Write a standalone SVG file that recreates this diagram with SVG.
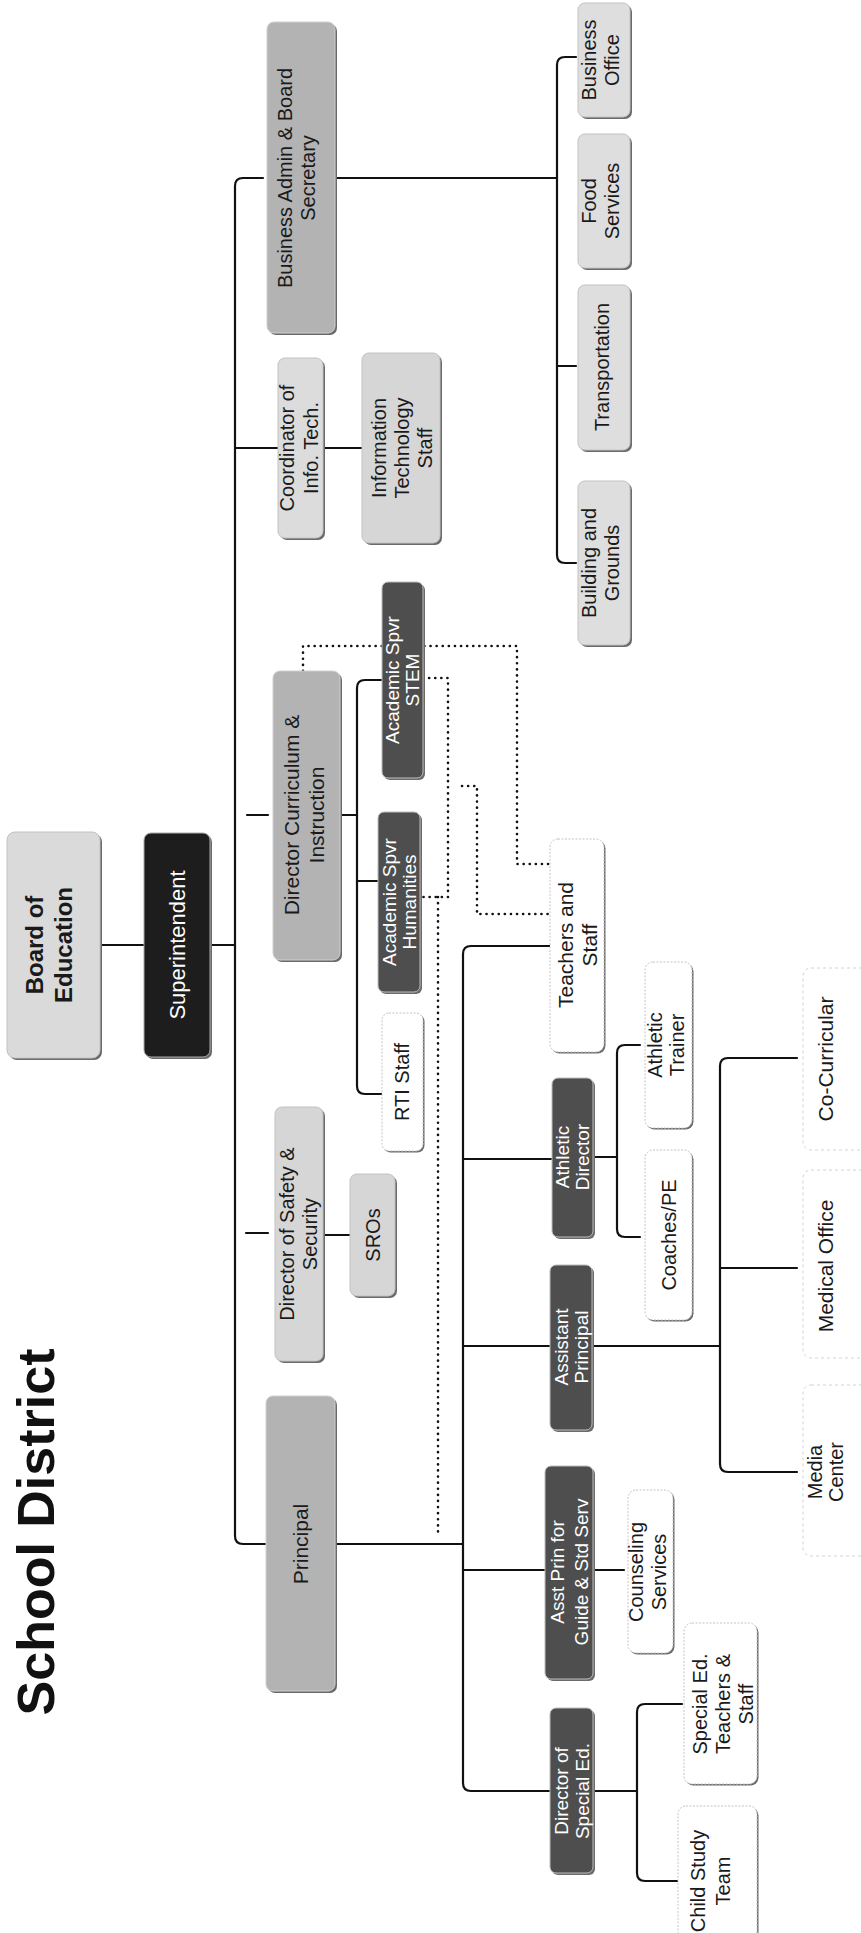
<svg xmlns="http://www.w3.org/2000/svg" width="861" height="1933" viewBox="0 0 861 1933">
<style>
.ln{fill:none;stroke:#111;stroke-width:2.2;stroke-linecap:round;stroke-linejoin:round}
.dt{fill:none;stroke:#111;stroke-width:2.6;stroke-dasharray:0.1 6;stroke-linecap:round}
.t{font-family:"Liberation Sans",Arial,sans-serif;text-anchor:middle;font-size:20px;fill:#1a1a1a}
.wt{fill:#fff}
.b{font-weight:bold}
.sh{fill:#6a6a6a}
.w{fill:#fff;stroke:#c4c4c4;stroke-width:1;stroke-dasharray:2 1.5}
.lg{fill:#d6d6d6;stroke:#c2c2c2;stroke-width:1}
.mg{fill:#b3b3b3;stroke:#d0d0d0;stroke-width:1}
.dk{fill:#4e4e4e;stroke:#bdbdbd;stroke-width:1}
.bk{fill:#1d1d1d;stroke:#aaa;stroke-width:1}
.fa{fill:#fff;stroke:#d2d2d2;stroke-width:1;stroke-dasharray:3 3}
</style>
<rect width="861" height="1933" fill="#fff"/>
<g id="title">
<text class="t b" font-size="52" transform="translate(54,1532) rotate(-90)" style="font-size:52px;fill:#111">School District</text>
</g>
<g id="connectors">
<path class="dt" d="M303,671 V646 H517 V864 H550"/>
<path class="dt" d="M423,678 H448 V897 H420"/>
<path class="dt" d="M438,897 V1534"/>
<path class="dt" d="M462,786 H477 V914 H550"/>
<path class="ln" d="M100,945 H144"/>
<path class="ln" d="M210,945 H235"/>
<path class="ln" d="M263,178 H243 Q235,178 235,186 V1536 Q235,1544 243,1544 H266"/>
<path class="ln" d="M235,448 H278"/>
<path class="ln" d="M247,815 H268"/>
<path class="ln" d="M246,1233 H268"/>
<path class="ln" d="M323,448 H362"/>
<path class="ln" d="M323,1235 H350"/>
<path class="ln" d="M335,178 H557"/>
<path class="ln" d="M576,57 H565 Q557,57 557,65 V555 Q557,563 565,563 H576"/>
<path class="ln" d="M557,366 H576"/>
<path class="ln" d="M340,815 H357"/>
<path class="ln" d="M382,680 H365 Q357,680 357,688 V1086 Q357,1094 365,1094 H382"/>
<path class="ln" d="M357,881 H378"/>
<path class="ln" d="M335,1544 H463"/>
<path class="ln" d="M550,946 H471 Q463,946 463,954 V1783 Q463,1791 471,1791 H550"/>
<path class="ln" d="M463,1159 H552"/>
<path class="ln" d="M463,1346 H550"/>
<path class="ln" d="M463,1570 H545"/>
<path class="ln" d="M593,1157 H617"/>
<path class="ln" d="M640,1045 H625 Q617,1045 617,1053 V1229 Q617,1237 625,1237 H640"/>
<path class="ln" d="M592,1346 H720"/>
<path class="ln" d="M797,1058 H728 Q720,1058 720,1066 V1464 Q720,1472 728,1472 H797"/>
<path class="ln" d="M720,1268 H797"/>
<path class="ln" d="M593,1570 H624"/>
<path class="ln" d="M593,1791 H637"/>
<path class="ln" d="M682,1704 H645 Q637,1704 637,1712 V1873 Q637,1881 645,1881 H682"/>
</g>
<g id="board"><rect class="sh" x="9" y="834" width="93" height="226" rx="8"/><rect class="lg" x="7" y="832" width="93" height="226" rx="8" style="fill:#dadada"/>
<text class="t b" transform="translate(43,945) rotate(-90)" style="font-size:24px"><tspan x="0">Board of</tspan><tspan x="0" dy="29">Education</tspan></text></g>
<g id="superintendent"><rect class="sh" x="146" y="835" width="66" height="224" rx="7"/><rect class="bk" x="144" y="833" width="66" height="224" rx="7"/>
<text class="t wt" transform="translate(185,945) rotate(-90)" style="font-size:22px">Superintendent</text></g>
<g id="principal"><rect class="sh" x="268" y="1398" width="69" height="295" rx="7"/><rect class="mg" x="266" y="1396" width="69" height="295" rx="7"/>
<text class="t" transform="translate(308,1544) rotate(-90)" style="font-size:21px">Principal</text></g>
<g id="safety"><rect class="sh" x="277" y="1109" width="48" height="254" rx="7"/><rect class="lg" x="275" y="1107" width="48" height="254" rx="7"/>
<text class="t" transform="translate(294,1234) rotate(-90)"><tspan x="0">Director of Safety &amp;</tspan><tspan x="0" dy="23">Security</tspan></text></g>
<g id="sros"><rect class="sh" x="352" y="1176" width="45" height="122" rx="7"/><rect class="lg" x="350" y="1174" width="45" height="122" rx="7"/>
<text class="t" transform="translate(380,1235) rotate(-90)">SROs</text></g>
<g id="dci"><rect class="sh" x="275" y="673" width="67" height="289" rx="7"/><rect class="mg" x="273" y="671" width="67" height="289" rx="7"/>
<text class="t" transform="translate(299,815) rotate(-90)" style="font-size:21px"><tspan x="0">Director Curriculum &amp;</tspan><tspan x="0" dy="25">Instruction</tspan></text></g>
<g id="stem"><rect class="sh" x="384" y="584" width="41" height="196" rx="6"/><rect class="dk" x="382" y="582" width="41" height="196" rx="6"/>
<text class="t wt" transform="translate(399,680) rotate(-90)" style="font-size:19px"><tspan x="0">Academic Spvr</tspan><tspan x="0" dy="20">STEM</tspan></text></g>
<g id="humanities"><rect class="sh" x="380" y="814" width="42" height="180" rx="6"/><rect class="dk" x="378" y="812" width="42" height="180" rx="6"/>
<text class="t wt" transform="translate(396,902) rotate(-90)" style="font-size:19px"><tspan x="0">Academic Spvr</tspan><tspan x="0" dy="20">Humanities</tspan></text></g>
<g id="rti"><rect class="sh" x="383.5" y="1014.5" width="41" height="138" rx="7"/><rect class="w" x="382" y="1013" width="41" height="138" rx="7"/>
<text class="t" transform="translate(409,1082) rotate(-90)">RTI Staff</text></g>
<g id="coordinator"><rect class="sh" x="280" y="360" width="45" height="180" rx="7"/><rect class="lg" x="278" y="358" width="45" height="180" rx="7" style="fill:#dcdcdc"/>
<text class="t" transform="translate(294,448) rotate(-90)"><tspan x="0">Coordinator of</tspan><tspan x="0" dy="24">Info. Tech.</tspan></text></g>
<g id="itstaff"><rect class="sh" x="364" y="355" width="78" height="190" rx="7"/><rect class="lg" x="362" y="353" width="78" height="190" rx="7"/>
<text class="t" transform="translate(386,448) rotate(-90)"><tspan x="0">Information</tspan><tspan x="0" dy="23">Technology</tspan><tspan x="0" dy="23">Staff</tspan></text></g>
<g id="busadmin"><rect class="sh" x="269" y="24" width="68" height="311" rx="7"/><rect class="mg" x="267" y="22" width="68" height="311" rx="7"/>
<text class="t" transform="translate(292,178) rotate(-90)"><tspan x="0">Business Admin &amp; Board</tspan><tspan x="0" dy="23">Secretary</tspan></text></g>
<g id="busoffice"><rect class="sh" x="580" y="5" width="52" height="114" rx="7"/><rect class="lg" x="578" y="3" width="52" height="114" rx="7" style="fill:#dedede"/>
<text class="t" transform="translate(596,60) rotate(-90)"><tspan x="0">Business</tspan><tspan x="0" dy="23">Office</tspan></text></g>
<g id="food"><rect class="sh" x="580" y="136" width="52" height="134" rx="7"/><rect class="lg" x="578" y="134" width="52" height="134" rx="7" style="fill:#dedede"/>
<text class="t" transform="translate(596,201) rotate(-90)"><tspan x="0">Food</tspan><tspan x="0" dy="23">Services</tspan></text></g>
<g id="transport"><rect class="sh" x="580" y="287" width="52" height="165" rx="7"/><rect class="lg" x="578" y="285" width="52" height="165" rx="7" style="fill:#dedede"/>
<text class="t" transform="translate(609,367) rotate(-90)">Transportation</text></g>
<g id="buildings"><rect class="sh" x="580" y="483" width="52" height="164" rx="7"/><rect class="lg" x="578" y="481" width="52" height="164" rx="7" style="fill:#dedede"/>
<text class="t" transform="translate(596,563) rotate(-90)"><tspan x="0">Building and</tspan><tspan x="0" dy="23">Grounds</tspan></text></g>
<g id="teachers"><rect class="sh" x="551.5" y="840.5" width="54" height="213" rx="8"/><rect class="w" x="550" y="839" width="54" height="213" rx="8"/>
<text class="t" transform="translate(573,945) rotate(-90)" style="font-size:21px"><tspan x="0">Teachers and</tspan><tspan x="0" dy="24">Staff</tspan></text></g>
<g id="athdir"><rect class="sh" x="554" y="1080" width="41" height="159" rx="6"/><rect class="dk" x="552" y="1078" width="41" height="159" rx="6"/>
<text class="t wt" transform="translate(569,1157) rotate(-90)" style="font-size:19px"><tspan x="0">Athletic</tspan><tspan x="0" dy="20">Director</tspan></text></g>
<g id="trainer"><rect class="sh" x="646.5" y="963.5" width="47" height="166" rx="8"/><rect class="w" x="645" y="962" width="47" height="166" rx="8"/>
<text class="t" transform="translate(662,1045) rotate(-90)"><tspan x="0">Athletic</tspan><tspan x="0" dy="22">Trainer</tspan></text></g>
<g id="coaches"><rect class="sh" x="646.5" y="1151.5" width="47" height="170" rx="8"/><rect class="w" x="645" y="1150" width="47" height="170" rx="8"/>
<text class="t" transform="translate(676,1235) rotate(-90)">Coaches/PE</text></g>
<g id="asstprincipal"><rect class="sh" x="552" y="1267" width="42" height="165" rx="6"/><rect class="dk" x="550" y="1265" width="42" height="165" rx="6"/>
<text class="t wt" transform="translate(568,1347) rotate(-90)" style="font-size:19px"><tspan x="0">Assistant</tspan><tspan x="0" dy="20">Principal</tspan></text></g>
<g id="cocurricular"><rect class="fa" x="803" y="968" width="80" height="182" rx="8"/>
<text class="t" transform="translate(833,1059) rotate(-90)" style="font-size:21px">Co-Curricular</text></g>
<g id="medical"><rect class="fa" x="803" y="1170" width="80" height="188" rx="8"/>
<text class="t" transform="translate(833,1266) rotate(-90)" style="font-size:21px">Medical Office</text></g>
<g id="media"><rect class="fa" x="803" y="1385" width="80" height="171" rx="8"/>
<text class="t" transform="translate(822,1472) rotate(-90)"><tspan x="0">Media</tspan><tspan x="0" dy="21">Center</tspan></text></g>
<g id="guide"><rect class="sh" x="547" y="1468" width="48" height="213" rx="6"/><rect class="dk" x="545" y="1466" width="48" height="213" rx="6"/>
<text class="t wt" transform="translate(564,1572) rotate(-90)" style="font-size:19px"><tspan x="0">Asst Prin for</tspan><tspan x="0" dy="24">Guide &amp; Std Serv</tspan></text></g>
<g id="counseling"><rect class="sh" x="629.5" y="1491.5" width="45" height="163" rx="8"/><rect class="w" x="628" y="1490" width="45" height="163" rx="8"/>
<text class="t" transform="translate(643,1572) rotate(-90)"><tspan x="0">Counseling</tspan><tspan x="0" dy="23">Services</tspan></text></g>
<g id="specialed"><rect class="sh" x="552" y="1710" width="43" height="165" rx="6"/><rect class="dk" x="550" y="1708" width="43" height="165" rx="6"/>
<text class="t wt" transform="translate(568,1791) rotate(-90)" style="font-size:19px"><tspan x="0">Director of</tspan><tspan x="0" dy="21">Special Ed.</tspan></text></g>
<g id="spedstaff"><rect class="sh" x="685.5" y="1624.5" width="73" height="161" rx="8"/><rect class="w" x="684" y="1623" width="73" height="161" rx="8"/>
<text class="t" transform="translate(707,1704) rotate(-90)"><tspan x="0">Special Ed.</tspan><tspan x="0" dy="23">Teachers &amp;</tspan><tspan x="0" dy="23">Staff</tspan></text></g>
<g id="childstudy"><rect class="sh" x="679.5" y="1807.5" width="79" height="150" rx="8"/><rect class="w" x="678" y="1806" width="79" height="150" rx="8"/>
<text class="t" transform="translate(705,1881) rotate(-90)"><tspan x="0">Child Study</tspan><tspan x="0" dy="25">Team</tspan></text></g>
</svg>
